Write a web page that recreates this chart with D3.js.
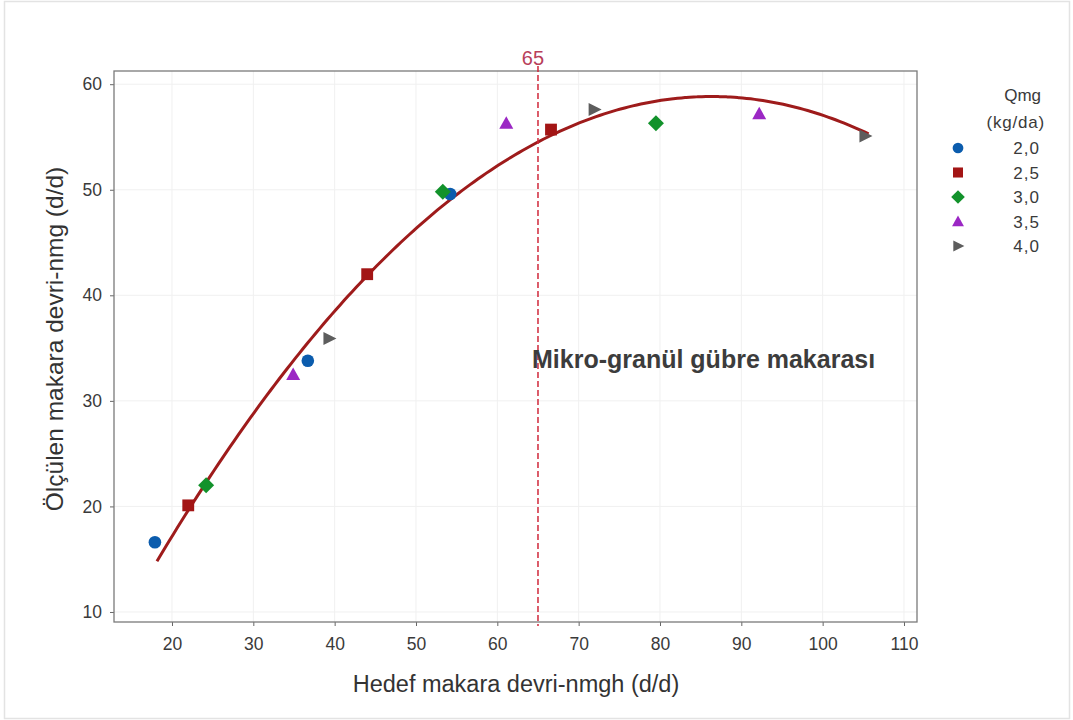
<!DOCTYPE html>
<html>
<head>
<meta charset="utf-8">
<script src="https://cdn.jsdelivr.net/npm/d3@7"></script>
<style>
  html, body { margin: 0; padding: 0; background: #fff; }
  svg { display: block; font-family: "Liberation Sans", Arial, sans-serif; }
</style>
</head>
<body>
<svg id="chart" width="1073" height="720"></svg>
<script>
// Dose groups (Qmg, kg/da) and their measured points
const groups = ["2,0", "2,5", "3,0", "3,5", "4,0"];
const groupColors = ["#0b5cad", "#a31515", "#12922b", "#9b27c4", "#5d5d5d"];
const groupShapes = ["circle", "square", "diamond", "triangle", "right"];

const targetRev = [
  [17.9, 36.7, 54.2],   // 2,0
  [22.0, 44.0, 66.6],   // 2,5
  [24.2, 53.3, 79.5],   // 3,0
  [34.9, 61.1, 92.2],   // 3,5
  [39.3, 71.9, 105.2]   // 4,0
];
const measuredRev = [
  [16.6, 33.8, 49.6],
  [20.1, 42.0, 55.7],
  [22.0, 49.8, 56.3],
  [32.5, 56.3, 57.2],
  [35.9, 57.6, 55.1]
];

// Second-order fit: y = c0 + c1*x + c2*x^2, drawn over the observed x range
const fitCoef = [-11.76, 1.6354, -0.009472];
const fitRange = [18.15, 105.9];
const markerX = 65;

const xTicks = [20, 30, 40, 50, 60, 70, 80, 90, 100, 110];
const yTicks = [10, 20, 30, 40, 50, 60];

const svg = d3.select("#chart");
const W = 1073, H = 720;
const plot = { left: 114, top: 71, right: 917, bottom: 622 };
const FONT = "'Liberation Sans', Arial, sans-serif";

// outer light frame
svg.append("rect").attr("x", 4.5).attr("y", 1.5).attr("width", W - 8).attr("height", H - 3)
  .attr("fill", "#fff").attr("stroke", "#e3e3e3").attr("stroke-width", 1.5);

const x = d3.scaleLinear().domain([12.87, 111.6]).range([plot.left, plot.right]);
const y = d3.scaleLinear().domain([9.05, 61.25]).range([plot.bottom, plot.top]);

// gridlines
const grid = svg.append("g");
grid.selectAll("line.vx").data(xTicks).join("line")
  .attr("x1", d => x(d)).attr("x2", d => x(d))
  .attr("y1", plot.top).attr("y2", plot.bottom)
  .attr("stroke", "#f0f0f0").attr("stroke-width", 1);
grid.selectAll("line.hy").data(yTicks).join("line")
  .attr("y1", d => y(d)).attr("y2", d => y(d))
  .attr("x1", plot.left).attr("x2", plot.right)
  .attr("stroke", "#f0f0f0").attr("stroke-width", 1);

// axes
const xAxis = svg.append("g").attr("transform", `translate(0,${plot.bottom})`)
  .call(d3.axisBottom(x).tickValues(xTicks).tickSize(4).tickPadding(12).tickSizeOuter(0));
const yAxis = svg.append("g").attr("transform", `translate(${plot.left},0)`)
  .call(d3.axisLeft(y).tickValues(yTicks).tickSize(4).tickPadding(8).tickSizeOuter(0));
[xAxis, yAxis].forEach(a => {
  a.select(".domain").remove();
  a.selectAll(".tick line").attr("stroke", "#666");
  a.selectAll(".tick text").attr("fill", "#3a3a3a").style("font-size", "17.5px")
    .style("font-family", FONT);
});

// plot frame
svg.append("rect").attr("x", plot.left).attr("y", plot.top)
  .attr("width", plot.right - plot.left).attr("height", plot.bottom - plot.top)
  .attr("fill", "none").attr("stroke", "#7a7a7a").attr("stroke-width", 1.3);

// fitted curve
const fitPts = d3.range(fitRange[0], fitRange[1] + 0.01, 0.5)
  .map(v => [v, fitCoef[0] + fitCoef[1] * v + fitCoef[2] * v * v]);
svg.append("path").datum(fitPts)
  .attr("d", d3.line().x(d => x(d[0])).y(d => y(d[1])).curve(d3.curveMonotoneX))
  .attr("fill", "none").attr("stroke", "#9e1b1b").attr("stroke-width", 3);

// reference line at 65
svg.append("line")
  .attr("x1", x(markerX)).attr("x2", x(markerX))
  .attr("y1", plot.top - 5).attr("y2", plot.bottom + 4)
  .attr("stroke", "#d0283a").attr("stroke-width", 1.5).attr("stroke-dasharray", "6,3");
svg.append("text").attr("x", x(markerX) - 5).attr("y", 65)
  .attr("text-anchor", "middle").attr("fill", "#b8405a")
  .style("font-size", "20px").text(markerX);

// marker shapes
function symbolPath(shape) {
  switch (shape) {
    case "circle": return d3.symbol(d3.symbolCircle, 125)();
    case "square": return d3.symbol(d3.symbolSquare, 140)();
    case "diamond": return "M0,-8L8,0L0,8L-8,0Z";
    case "triangle": return "M0,-7L7,5.5L-7,5.5Z";
    case "right": return "M-5.5,-6.5L7.5,0L-5.5,6.5Z";
  }
}

groups.forEach((g, i) => {
  const pts = targetRev[i].map((v, j) => [v, measuredRev[i][j]]);
  svg.append("g").selectAll("path").data(pts).join("path")
    .attr("d", symbolPath(groupShapes[i]))
    .attr("transform", d => `translate(${x(d[0])},${y(d[1])})`)
    .attr("fill", groupColors[i]);
});

// annotation
svg.append("text").attr("x", 532).attr("y", 368)
  .attr("fill", "#3c3c3c").style("font-size", "25px").style("font-weight", "bold")
  .text("Mikro-granül gübre makarası");

// axis titles
svg.append("text").attr("x", 516).attr("y", 692).attr("text-anchor", "middle")
  .attr("fill", "#333").style("font-size", "23.5px").text("Hedef makara devri-nmgh (d/d)");
svg.append("text").attr("transform", "translate(63,339) rotate(-90)")
  .attr("text-anchor", "middle").attr("fill", "#333").style("font-size", "24.5px")
  .text("Ölçülen makara devri-nmg (d/d)");

// legend
const lg = svg.append("g");
lg.append("text").attr("x", 1041).attr("y", 101).attr("text-anchor", "end")
  .attr("fill", "#3a3a3a").style("font-size", "17px").text("Qmg");
lg.append("text").attr("x", 1045).attr("y", 128).attr("text-anchor", "end")
  .attr("fill", "#3a3a3a").style("font-size", "17px").style("letter-spacing", "0.8px").text("(kg/da)");
groups.forEach((g, i) => {
  const cy = 148 + i * 24.5;
  lg.append("path").attr("d", symbolPath(groupShapes[i]))
    .attr("transform", `translate(958,${cy}) scale(0.85)`).attr("fill", groupColors[i]);
  lg.append("text").attr("x", 1040).attr("y", cy + 6).attr("text-anchor", "end")
    .attr("fill", "#3a3a3a").style("font-size", "17px").style("letter-spacing", "1px").text(g);
});
</script>
</body>
</html>
